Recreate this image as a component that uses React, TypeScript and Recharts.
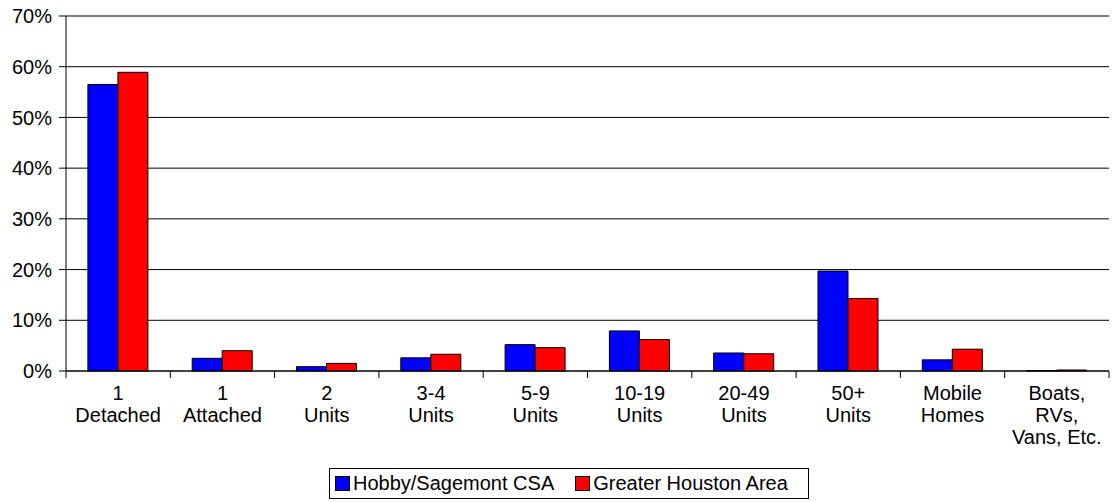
import React from 'react';
import { BarChart, Bar, XAxis, YAxis, CartesianGrid, Legend } from 'recharts';

// housing type categories (each label split into lines)
const categories = [
  ['1', 'Detached'],
  ['1', 'Attached'],
  ['2', 'Units'],
  ['3-4', 'Units'],
  ['5-9', 'Units'],
  ['10-19', 'Units'],
  ['20-49', 'Units'],
  ['50+', 'Units'],
  ['Mobile', 'Homes'],
  ['Boats,', 'RVs,', 'Vans, Etc.'],
];

// percent of housing units
const hobbyValues = [56.5, 2.5, 0.85, 2.6, 5.2, 7.9, 3.55, 19.7, 2.2, 0.1];
const houstonValues = [58.9, 4.0, 1.5, 3.3, 4.6, 6.2, 3.4, 14.3, 4.3, 0.2];

const yTicks = [0, 10, 20, 30, 40, 50, 60, 70];

const seriesNames = ['Hobby/Sagemont CSA', 'Greater Houston Area'];
const colors = ['#0000FF', '#FF0000'];

const data = categories.map((lines, i) => ({
  name: lines.join(' '),
  hobby: hobbyValues[i],
  houston: houstonValues[i],
}));

const FONT = '"Liberation Sans", Arial, sans-serif';
const BAND = (1109 - 66) / categories.length;

const CategoryTick = (props: any) => {
  const { x, y, index } = props;
  const lines = categories[index] || [];
  const isLast = index === categories.length - 1;
  return (
    <g>
      <line x1={x - BAND / 2} y1={y} x2={x - BAND / 2} y2={y + 7} stroke="#000" />
      {isLast && <line x1={x + BAND / 2} y1={y} x2={x + BAND / 2} y2={y + 7} stroke="#000" />}
      <text x={x} y={y + 29} textAnchor="middle" fontSize={20} fill="#000" fontFamily={FONT}>
        {lines.map((l, i) => (
          <tspan key={i} x={x} dy={i === 0 ? 0 : 22}>
            {l}
          </tspan>
        ))}
      </text>
    </g>
  );
};

const renderLegend = () => (
  <div
    style={{
      display: 'flex',
      alignItems: 'center',
      border: '1px solid #000',
      height: 29,
      padding: '0 20px 0 5px',
      fontFamily: FONT,
      fontSize: 20,
      color: '#000',
      background: '#fff',
      whiteSpace: 'nowrap',
    }}
  >
    {seriesNames.map((n, i) => (
      <div key={n} style={{ display: 'flex', alignItems: 'center', marginRight: i === 0 ? 21 : 0 }}>
        <div
          style={{
            width: 13,
            height: 13,
            background: colors[i],
            border: '1px solid #000',
            marginRight: 3,
          }}
        />
        <span>{n}</span>
      </div>
    ))}
  </div>
);

export default function App() {
  return (
    <div style={{ position: 'absolute', left: 0, top: 0, width: 1114, height: 502, background: '#fff' }}>
      <BarChart
        width={1114}
        height={502}
        data={data}
        margin={{ top: 16, right: 5, bottom: 0, left: 0 }}
        barCategoryGap="21%"
        barGap={0}
        style={{ fontFamily: FONT }}
      >
        <CartesianGrid vertical={false} stroke="#000" />
        <XAxis
          dataKey="name"
          interval={0}
          height={131}
          tickSize={0}
          tickMargin={0}
          tick={<CategoryTick />}
          axisLine={{ stroke: '#000' }}
        />
        <YAxis
          domain={[0, 70]}
          ticks={yTicks}
          interval={0}
          width={66}
          tickSize={7}
          tickMargin={7}
          tickFormatter={(v: number) => `${v}%`}
          tick={{ fill: '#000', fontSize: 20, fontFamily: FONT }}
          axisLine={{ stroke: '#000' }}
          tickLine={{ stroke: '#000' }}
        />
        <YAxis
          yAxisId="right"
          orientation="right"
          width={0}
          tick={false}
          tickLine={false}
          axisLine={{ stroke: '#000' }}
        />
        <Legend
          layout="horizontal"
          verticalAlign="middle"
          align="center"
          content={renderLegend}
          wrapperStyle={{ left: 329, top: 468, width: 'auto', height: 'auto' }}
        />
        <Bar dataKey="hobby" name={seriesNames[0]} fill={colors[0]} stroke="#000" strokeWidth={1} isAnimationActive={false} />
        <Bar dataKey="houston" name={seriesNames[1]} fill={colors[1]} stroke="#000" strokeWidth={1} isAnimationActive={false} />
      </BarChart>
    </div>
  );
}
